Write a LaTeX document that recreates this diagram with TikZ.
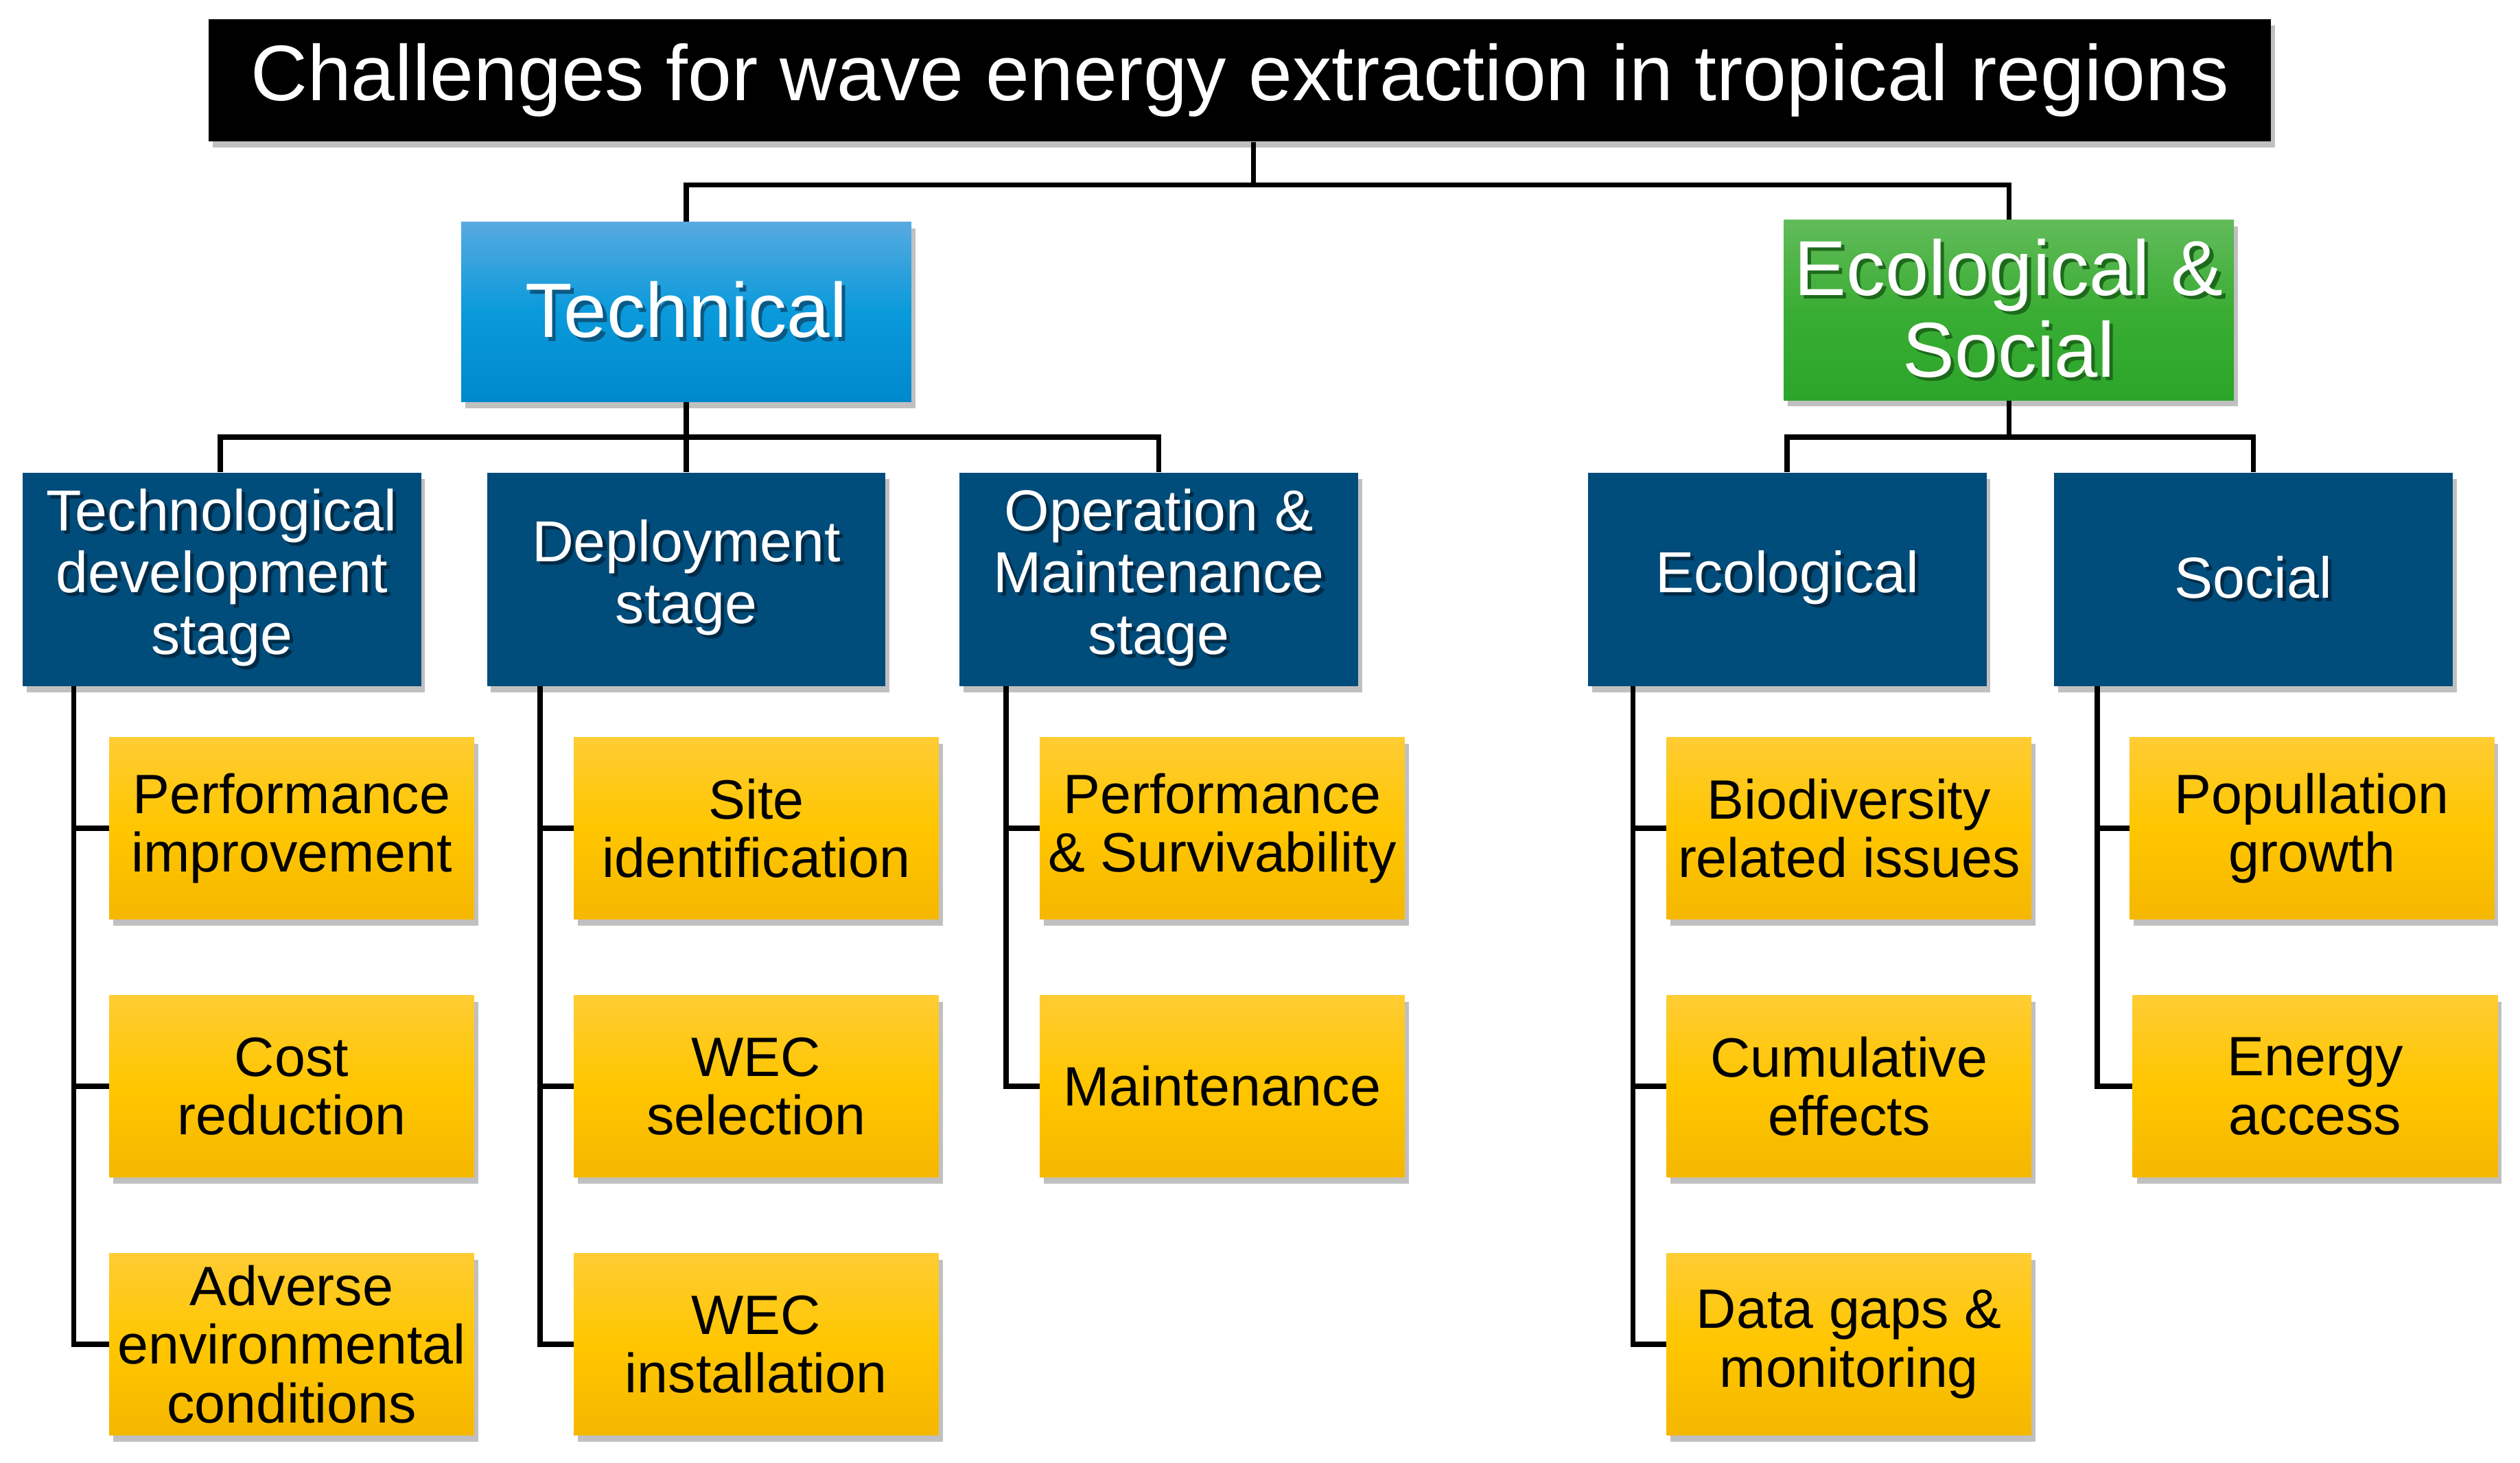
\documentclass[tikz,border=0pt]{standalone}
\usepackage{fontspec}
\setmainfont{Liberation Sans}
\usetikzlibrary{shadows}
\definecolor{darkblu}{HTML}{004C7A}
\definecolor{techtop}{HTML}{58AAE0}
\definecolor{techmid}{HTML}{0A9ADB}
\definecolor{techbot}{HTML}{0088CC}
\definecolor{ecotop}{HTML}{62BB5A}
\definecolor{ecomid}{HTML}{3AAD34}
\definecolor{ecobot}{HTML}{2BA52A}
\definecolor{yeltop}{HTML}{FFCC33}
\definecolor{yelmid}{HTML}{FFC600}
\definecolor{yelbot}{HTML}{F5B700}
\definecolor{shblue}{HTML}{002A45}
\definecolor{shtech}{HTML}{0A5A85}
\definecolor{sheco}{HTML}{1E6A1C}
% white text with a soft dark offset shadow
\newcommand{\tsh}[2]{\rlap{\kern2.2pt\raisebox{-2.2pt}{\textcolor{#1}{#2}}}#2}
\tikzset{
  shad/.style={drop shadow={shadow xshift=2.5pt, shadow yshift=-4pt, opacity=0.35, fill=black!70}},
  titlebox/.style={fill=black, minimum width=1283pt, minimum height=76pt, inner sep=0pt,
    text=white, font=\fontsize{49}{54}\selectfont, shad},
  topbox/.style={minimum width=280pt, minimum height=112pt, inner sep=0pt, align=center,
    text=white, shad},
  techbox/.style={topbox, top color=techtop, bottom color=techbot, middle color=techmid,
    font=\fontsize{48}{51}\selectfont},
  ecobox/.style={topbox, top color=ecotop, bottom color=ecobot, middle color=ecomid,
    font=\fontsize{48.5}{51}\selectfont},
  midbox/.style={fill=darkblu, minimum width=248pt, minimum height=133pt, inner sep=0pt,
    align=center, text=white, font=\fontsize{36}{38.5}\selectfont, shad},
  leafbox/.style={top color=yeltop, bottom color=yelbot, middle color=yelmid,
    minimum width=227pt, minimum height=113pt, inner sep=0pt, align=center,
    text=black, font=\fontsize{34.5}{36.5}\selectfont, shad},
  conn/.style={draw=black, line width=3.2pt}
}
\begin{document}
\begin{tikzpicture}[x=1pt,y=-1pt]
\useasboundingbox[fill=white] (0,0) rectangle (1568,910);

% title and top level
\node[titlebox] (title) at (771.5,50) {Challenges for wave energy extraction in tropical regions};
\node[techbox] (tech) at (427,194) {\tsh{shtech}{Technical}};
\node[ecobox] (eco) at (1250,193) {\tsh{sheco}{Ecological \&}\\\tsh{sheco}{Social}};

% second level
\node[midbox] (tds) at (138,360.5) {\tsh{shblue}{Technological}\\\tsh{shblue}{development}\\\tsh{shblue}{stage}};
\node[midbox] (dep) at (427,360.5) {\tsh{shblue}{Deployment}\\\tsh{shblue}{stage}};
\node[midbox] (oms) at (721,360.5) {\tsh{shblue}{Operation \&}\\\tsh{shblue}{Maintenance}\\\tsh{shblue}{stage}};
\node[midbox] (ecl) at (1112,360.5) {\tsh{shblue}{Ecological}};
\node[midbox] (soc) at (1402,360.5) {\tsh{shblue}{Social}};

% leaves
\node[leafbox] (a1) at (181.5,515.5) {Performance\\improvement};
\node[leafbox] (a2) at (181.5,676) {Cost\\reduction};
\node[leafbox] (a3) at (181.5,836.5) {Adverse\\environmental\\conditions};
\node[leafbox] (b1) at (470.5,515.5) {Site\\identification};
\node[leafbox] (b2) at (470.5,676) {WEC\\selection};
\node[leafbox] (b3) at (470.5,836.5) {WEC\\installation};
\node[leafbox] (c1) at (760.5,515.5) {Performance\\\& Survivability};
\node[leafbox] (c2) at (760.5,676) {Maintenance};
\node[leafbox] (d1) at (1150.5,515.5) {Biodiversity\\related issues};
\node[leafbox] (d2) at (1150.5,676) {Cumulative\\effects};
\node[leafbox] (d3) at (1150.5,836.5) {Data gaps \&\\monitoring};
\node[leafbox] (e1) at (1438.5,515.5) {Popullation\\growth};
\node[leafbox] (e2) at (1440.5,676) {Energy\\access};

% connector junctions
\coordinate (j0) at (780,115);
\coordinate (j1) at (427,272);
\coordinate (j2) at (1250,272);
\coordinate (va) at (46,427);
\coordinate (vb) at (336,427);
\coordinate (vc) at (626,427);
\coordinate (vd) at (1016,427);
\coordinate (ve) at (1305,427);

% connectors
\draw[conn] (j0 |- title.south) -- (j0);
\draw[conn] (tech.north) |- (j0) -| (eco.north);
\draw[conn] (tech.south) -- (j1);
\draw[conn] (tds.north -| 137,0) |- (j1) -| (oms.north);
\draw[conn] (j1) -- (dep.north);
\draw[conn] (eco.south) -- (j2);
\draw[conn] (ecl.north) |- (j2) -| (soc.north);

\draw[conn] (va) |- (a3.west);
\draw[conn] (a1.west -| va) -- (a1.west);
\draw[conn] (a2.west -| va) -- (a2.west);
\draw[conn] (vb) |- (b3.west);
\draw[conn] (b1.west -| vb) -- (b1.west);
\draw[conn] (b2.west -| vb) -- (b2.west);
\draw[conn] (vc) |- (c2.west);
\draw[conn] (c1.west -| vc) -- (c1.west);
\draw[conn] (vd) |- (d3.west);
\draw[conn] (d1.west -| vd) -- (d1.west);
\draw[conn] (d2.west -| vd) -- (d2.west);
\draw[conn] (ve) |- (e2.west);
\draw[conn] (e1.west -| ve) -- (e1.west);
\end{tikzpicture}
\end{document}
